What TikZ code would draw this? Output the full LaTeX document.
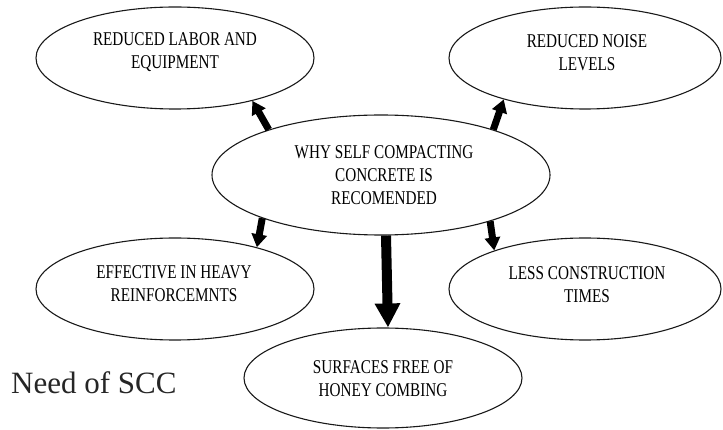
\documentclass[tikz,border=0pt]{standalone}
\usepackage{fontspec}
\setmainfont{Liberation Serif}
\newfontfamily\narrowserif[FakeStretch=0.78]{Liberation Serif}
\usetikzlibrary{shapes.geometric,arrows.meta}
\begin{document}
\begin{tikzpicture}[x=1pt,y=-1pt,
  bubble/.style={draw=black!90, line width=1.1pt, ellipse, inner sep=0pt},
  bubbletext/.style={align=center, inner sep=0pt, text=black,
    font=\narrowserif\fontsize{19.5}{23}\selectfont},
  push/.style={line width=7pt, -{Triangle[length=13pt,width=15pt]}},
  bigpush/.style={line width=10pt, -{Triangle[length=24pt,width=24pt]}}]
\useasboundingbox (0,0) rectangle (723,430);

% outer ellipses and the central question
\node[bubble, minimum width=278pt, minimum height=102pt] (labor) at (175,58) {};
\node[bubble, minimum width=272pt, minimum height=102pt] (noise) at (585,58) {};
\node[bubble, minimum width=338pt, minimum height=120pt] (why)   at (381,175) {};
\node[bubble, minimum width=278pt, minimum height=102pt] (heavy) at (175,289) {};
\node[bubble, minimum width=272pt, minimum height=102pt] (times) at (585,289) {};
\node[bubble, minimum width=278pt, minimum height=100pt] (honey) at (383,378) {};

% texts inside the ellipses
\node[bubbletext] (labor-t) at (175,52.5) {REDUCED LABOR AND\\EQUIPMENT};
\node[bubbletext] (noise-t) at (587,52.5) {REDUCED NOISE\\LEVELS};
\node[bubbletext] (why-t)   at (384,175)  {WHY SELF COMPACTING\\CONCRETE IS\\RECOMENDED};
\node[bubbletext] (heavy-t) at (174,283.5) {EFFECTIVE IN HEAVY\\REINFORCEMNTS};
\node[bubbletext] (times-t) at (587,285)  {LESS CONSTRUCTION\\TIMES};
\node[bubbletext] (honey-t) at (383,378.5) {SURFACES FREE OF\\HONEY COMBING};

% caption
\node[anchor=west, inner sep=0pt, text=black!85,
      font=\fontsize{31}{36}\selectfont] (caption) at (11,383) {Need of SCC};

% arrows from the central question
\draw[push] (why.158) -- (labor.-29);
\draw[push] (why.22)  -- (noise.207);
\draw[push] (why.200) -- (heavy.27);
\draw[push] (why.-23) -- (times.157);
\draw[bigpush] ([xshift=5pt]why.south) -- ([xshift=5pt]honey.north);
\end{tikzpicture}
\end{document}
